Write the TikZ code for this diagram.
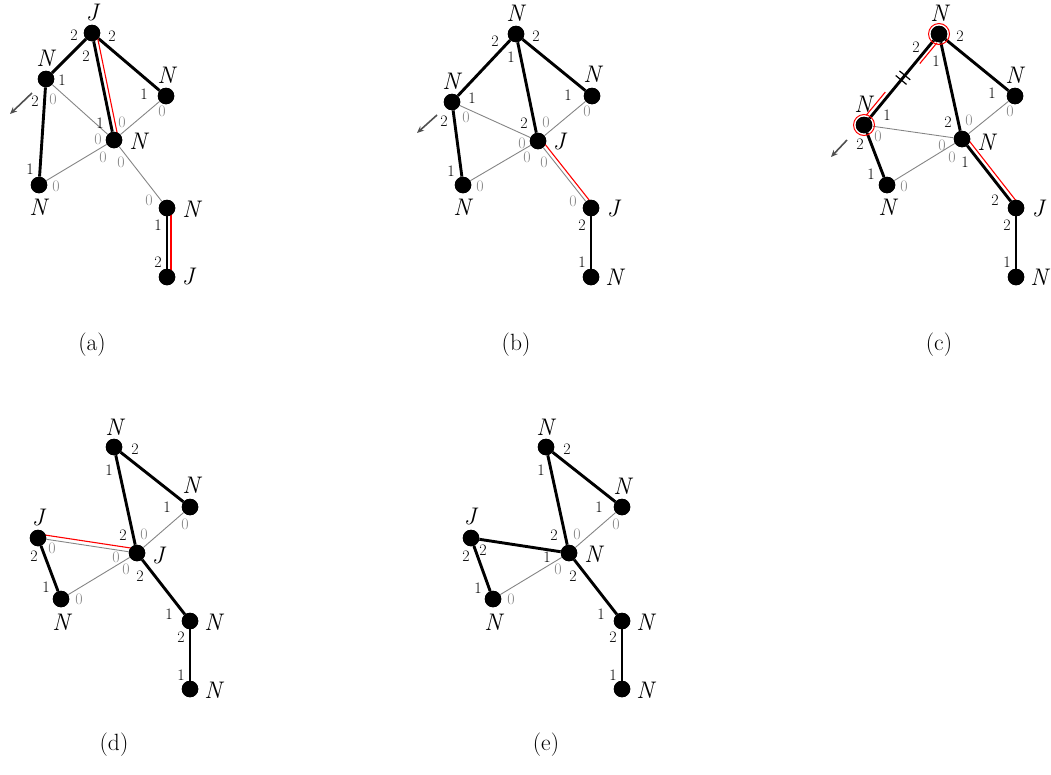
\documentclass[tikz,border=0pt]{standalone}
\usepackage{fontspec}
\usetikzlibrary{calc,arrows.meta}
\definecolor{edgegray}{HTML}{858585}
\definecolor{arrgray}{HTML}{505050}
\tikzset{
  dot/.style={circle,fill=black,inner sep=0pt,minimum size=16.5pt},
  lbl/.style={font=\fontsize{24}{28}\selectfont\itshape,inner sep=0pt},
  num/.style={font=\fontsize{16}{19}\selectfont,inner sep=0pt},
  zro/.style={num,text=edgegray},
  captext/.style={font=\fontsize{23.5}{28}\selectfont,inner sep=0pt},
  thk/.style={line width=2.9pt,black},
  thn/.style={line width=0.9pt,edgegray},
  redl/.style={line width=1.1pt,red},
  ring/.style={line width=1pt,red},
  tickm/.style={line width=1.2pt,black},
  moveto/.style={line width=1.6pt,arrgray,-{Stealth[length=7pt,width=6pt]}}
}
\newcommand\redpar[3][4.5pt]{\draw[redl] ($(#2)!#1!90:(#3)$) -- ($(#3)!#1!-90:(#2)$);}
\begin{document}
\begin{tikzpicture}[x=1pt,y=-1pt]
\useasboundingbox (0,0) rectangle (1051,774);
% ================= (a)
\node[dot] (aJ) at (92,33) {};
\node[dot] (aNL) at (46,79) {};
\node[dot] (aNR) at (166,96) {};
\node[dot] (aNC) at (114,140) {};
\node[dot] (aNBL) at (39,185) {};
\node[dot] (aNBR) at (167,208) {};
\node[dot] (aJB) at (167,277) {};
\draw[thn] (aNL) -- (aNC);
\draw[thn] (aNR) -- (aNC);
\draw[thn] (aNBL) -- (aNC);
\draw[thn] (aNC) -- (aNBR);
\draw[thk] (aJ) -- (aNL);
\draw[thk] (aJ) -- (aNR);
\draw[thk] (aJ) -- (aNC);
\draw[thk] (aNL) -- (aNBL);
\draw[thk] (aNBR) -- (aJB);
\redpar{aJ}{aNC}
\redpar[4pt]{aNBR}{aJB}
\foreach \n in {aJ,aNL,aNR,aNC,aNBL,aNBR,aJB} \node[dot] at (\n) {};
\coordinate (aA1) at (32,93); \coordinate (aA2) at (10,114);
\draw[moveto] (aA1) -- (aA2);
\node[lbl] (aLJ) at (92,13) {J};
\node[lbl] (aLNL) at (45,58) {N};
\node[lbl] (aLNR) at (166,75) {N};
\node[lbl] (aLNC) at (138,141) {N};
\node[lbl] (aLNBL) at (38,207) {N};
\node[lbl] (aLNBR) at (191,209) {N};
\node[lbl] (aLJB) at (188,277) {J};
\node[num] (a1) at (74,35) {2};
\node[num] (a2) at (112,36) {2};
\node[num] (a3) at (86,56) {2};
\node[num] (a4) at (62,80) {1};
\node[num] (a5) at (144,94) {1};
\node[num] (a6) at (35,101) {2};
\node[zro] (a7) at (53,99) {0};
\node[zro] (a8) at (162,111) {0};
\node[num] (a9) at (100,123) {1};
\node[zro] (a10) at (122,122) {0};
\node[zro] (a11) at (98,139) {0};
\node[zro] (a12) at (103,157) {0};
\node[zro] (a13) at (121,162) {0};
\node[num] (a14) at (30,169) {1};
\node[zro] (a15) at (56,186) {0};
\node[zro] (a16) at (149,200) {0};
\node[num] (a17) at (158,225) {1};
\node[num] (a18) at (158,262) {2};
\node[captext] (capa) at (92,345) {(a)};
% ================= (b)
\node[dot] (bT) at (516,34) {};
\node[dot] (bNL) at (452,102) {};
\node[dot] (bNR) at (592,96) {};
\node[dot] (bJC) at (538,141) {};
\node[dot] (bNBL) at (463,185) {};
\node[dot] (bJBR) at (591,208) {};
\node[dot] (bNB) at (591,277) {};
\draw[thn] (bNL) -- (bJC);
\draw[thn] (bNR) -- (bJC);
\draw[thn] (bNBL) -- (bJC);
\draw[thn] (bJC) -- (bJBR);
\draw[thk] (bT) -- (bNL);
\draw[thk] (bT) -- (bNR);
\draw[thk] (bT) -- (bJC);
\draw[thk] (bNL) -- (bNBL);
\draw[thk] (bJBR) -- (bNB);
\redpar[3.5pt]{bJC}{bJBR}
\foreach \n in {bT,bNL,bNR,bJC,bNBL,bJBR,bNB} \node[dot] at (\n) {};
\coordinate (bA1) at (437,115); \coordinate (bA2) at (417,133);
\draw[moveto] (bA1) -- (bA2);
\node[lbl] (bLT) at (515,13) {N};
\node[lbl] (bLNL) at (451,81) {N};
\node[lbl] (bLNR) at (592,74) {N};
\node[lbl] (bLJC) at (559,142) {J};
\node[lbl] (bLNBL) at (462,207) {N};
\node[lbl] (bLJBR) at (613,209) {J};
\node[lbl] (bLNB) at (614,277) {N};
\node[num] (b1) at (495,41) {2};
\node[num] (b2) at (536,36) {2};
\node[num] (b3) at (511,57) {1};
\node[num] (b4) at (472,98) {1};
\node[num] (b5) at (568,95) {1};
\node[num] (b6) at (444,121) {2};
\node[zro] (b7) at (466,117) {0};
\node[zro] (b8) at (587,111) {0};
\node[num] (b9) at (524,123) {2};
\node[zro] (b10) at (546,122) {0};
\node[zro] (b11) at (522,143) {0};
\node[zro] (b12) at (527,157) {0};
\node[zro] (b13) at (544,162) {0};
\node[num] (b14) at (451,171) {1};
\node[zro] (b15) at (480,186) {0};
\node[zro] (b16) at (573,201) {0};
\node[num] (b17) at (582,225) {2};
\node[num] (b18) at (582,262) {1};
\node[captext] (capb) at (516,345) {(b)};
% ================= (c)
\node[dot] (cT) at (939,34) {};
\node[dot] (cNL) at (864,125) {};
\node[dot] (cNR) at (1015,96) {};
\node[dot] (cNC) at (962,139) {};
\node[dot] (cNBL) at (887,185) {};
\node[dot] (cJBR) at (1016,208) {};
\node[dot] (cNB) at (1016,277) {};
\draw[thn] (cNL) -- (cNC);
\draw[thn] (cNR) -- (cNC);
\draw[thn] (cNBL) -- (cNC);
\draw[thk] (cT) -- (cNL);
\draw[thk] (cT) -- (cNR);
\draw[thk] (cT) -- (cNC);
\draw[thk] (cNL) -- (cNBL);
\draw[thk] (cNC) -- (cJBR);
\draw[thk] (cJBR) -- (cNB);
\redpar{cNC}{cJBR}
\draw[redl] ($(cT)!8pt!(cNL)!4pt!90:(cNL)$) -- ($(cT)!35pt!(cNL)!4pt!90:(cNL)$);
\draw[redl] ($(cNL)!9pt!(cT)!4.5pt!90:(cT)$) -- ($(cNL)!39pt!(cT)!4.5pt!90:(cT)$);
\draw[tickm] ($(cT)!0.455!(cNL)!7pt!90:(cNL)$) -- ($(cT)!0.455!(cNL)!7pt!-90:(cNL)$);
\draw[tickm] ($(cT)!0.505!(cNL)!7pt!90:(cNL)$) -- ($(cT)!0.505!(cNL)!7pt!-90:(cNL)$);
\foreach \n in {cT,cNL,cNR,cNC,cNBL,cJBR,cNB} \node[dot] at (\n) {};
\draw[ring] (cT) circle (10.5pt);
\draw[ring] (cNL) circle (10.5pt);
\coordinate (cA1) at (847,140); \coordinate (cA2) at (831,157);
\draw[moveto] (cA1) -- (cA2);
\node[lbl] (cLT) at (939,13) {N};
\node[lbl] (cLNL) at (863,104) {N};
\node[lbl] (cLNR) at (1014,75) {N};
\node[lbl] (cLNC) at (986,142) {N};
\node[lbl] (cLNBL) at (887,207) {N};
\node[lbl] (cLJBR) at (1038,209) {J};
\node[lbl] (cLNB) at (1039,277) {N};
\node[num] (c1) at (916,47) {2};
\node[num] (c2) at (960,36) {2};
\node[num] (c3) at (936,61) {1};
\node[num] (c4) at (887,115) {1};
\node[num] (c5) at (992,93) {1};
\node[num] (c6) at (948,122) {2};
\node[zro] (c7) at (969,120) {0};
\node[zro] (c8) at (1010,111) {0};
\node[zro] (c9) at (878,136) {0};
\node[num] (c10) at (860,144) {2};
\node[zro] (c11) at (942,145) {0};
\node[zro] (c12) at (952,157) {0};
\node[num] (c13) at (965,162) {1};
\node[num] (c14) at (871,174) {1};
\node[zro] (c15) at (904,186) {0};
\node[num] (c16) at (995,200) {2};
\node[num] (c17) at (1007,225) {2};
\node[num] (c18) at (1007,262) {1};
\node[captext] (capc) at (939,345) {(c)};
% ================= (d)
\node[dot] (dT) at (114,447) {};
\node[dot] (dNR) at (190,507) {};
\node[dot] (dJL) at (38,538) {};
\node[dot] (dJC) at (137,553) {};
\node[dot] (dNBL) at (61,599) {};
\node[dot] (dNBR) at (190,621) {};
\node[dot] (dNB) at (190,689) {};
\draw[thn] (dJL) -- (dJC);
\draw[thn] (dNR) -- (dJC);
\draw[thn] (dNBL) -- (dJC);
\draw[thk] (dT) -- (dNR);
\draw[thk] (dT) -- (dJC);
\draw[thk] (dJL) -- (dNBL);
\draw[thk] (dJC) -- (dNBR);
\draw[thk] (dNBR) -- (dNB);
\redpar[4pt]{dJL}{dJC}
\foreach \n in {dT,dNR,dJL,dJC,dNBL,dNBR,dNB} \node[dot] at (\n) {};
\node[lbl] (dLT) at (114,427) {N};
\node[lbl] (dLNR) at (191,485) {N};
\node[lbl] (dLJL) at (38,518) {J};
\node[lbl] (dLJC) at (158,556) {J};
\node[lbl] (dLNBL) at (61,622) {N};
\node[lbl] (dLNBR) at (213,622) {N};
\node[lbl] (dLNB) at (213,690) {N};
\node[num] (d1) at (135,449) {2};
\node[num] (d2) at (109,470) {1};
\node[num] (d3) at (167,507) {1};
\node[zro] (d4) at (185,524) {0};
\node[num] (d5) at (123,535) {2};
\node[zro] (d6) at (144,534) {0};
\node[zro] (d7) at (52,548) {0};
\node[num] (d8) at (34,556) {2};
\node[zro] (d9) at (116,557) {0};
\node[zro] (d10) at (126,569) {0};
\node[num] (d11) at (46,587) {1};
\node[zro] (d12) at (79,599) {0};
\node[num] (d13) at (140,576) {2};
\node[num] (d14) at (169,614) {1};
\node[num] (d15) at (181,637) {2};
\node[num] (d16) at (181,675) {1};
\node[captext] (capd) at (114,745) {(d)};
% ================= (e)
\node[dot] (eT) at (546,447) {};
\node[dot] (eNR) at (622,507) {};
\node[dot] (eJL) at (471,538) {};
\node[dot] (eNC) at (569,553) {};
\node[dot] (eNBL) at (493,599) {};
\node[dot] (eNBR) at (622,621) {};
\node[dot] (eNB) at (622,689) {};
\draw[thn] (eNR) -- (eNC);
\draw[thn] (eNBL) -- (eNC);
\draw[thk] (eT) -- (eNR);
\draw[thk] (eT) -- (eNC);
\draw[thk] (eJL) -- (eNC);
\draw[thk] (eJL) -- (eNBL);
\draw[thk] (eNC) -- (eNBR);
\draw[thk] (eNBR) -- (eNB);
\foreach \n in {eT,eNR,eJL,eNC,eNBL,eNBR,eNB} \node[dot] at (\n) {};
\node[lbl] (eLT) at (545,427) {N};
\node[lbl] (eLNR) at (622,486) {N};
\node[lbl] (eLJL) at (470,517) {J};
\node[lbl] (eLNC) at (593,554) {N};
\node[lbl] (eLNBL) at (493,622) {N};
\node[lbl] (eLNBR) at (645,622) {N};
\node[lbl] (eLNB) at (645,690) {N};
\node[num] (e1) at (567,449) {2};
\node[num] (e2) at (541,470) {1};
\node[num] (e3) at (599,507) {1};
\node[zro] (e4) at (616,524) {0};
\node[num] (e5) at (554,535) {2};
\node[zro] (e6) at (577,534) {0};
\node[num] (e7) at (483,550) {2};
\node[num] (e8) at (466,556) {2};
\node[num] (e9) at (547,557) {1};
\node[zro] (e10) at (558,569) {0};
\node[num] (e11) at (478,588) {1};
\node[zro] (e12) at (511,599) {0};
\node[num] (e13) at (573,576) {2};
\node[num] (e14) at (601,614) {1};
\node[num] (e15) at (613,637) {2};
\node[num] (e16) at (613,675) {1};
\node[captext] (cape) at (546,745) {(e)};
\end{tikzpicture}
\end{document}
